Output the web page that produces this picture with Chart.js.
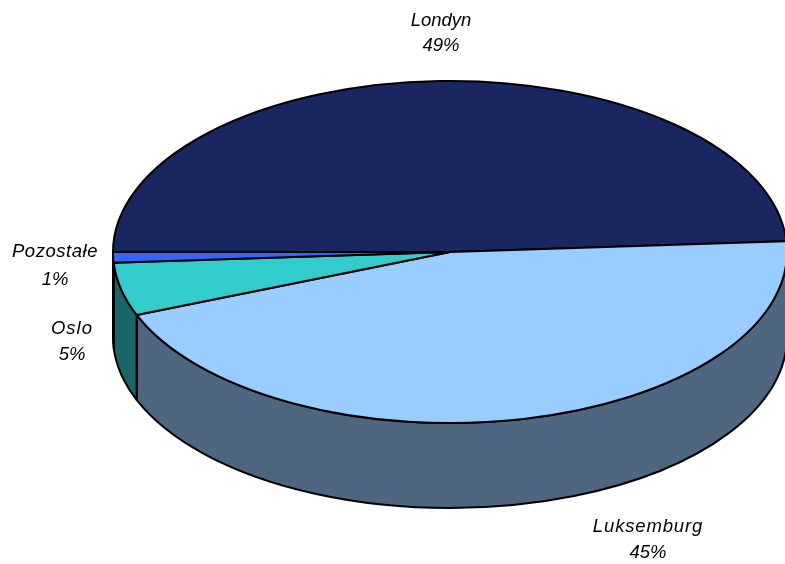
<!DOCTYPE html>
<html>
<head>
<meta charset="utf-8">
<style>html,body{margin:0;padding:0;background:#fff;overflow:hidden}canvas{display:block}</style>
<script src="https://cdn.jsdelivr.net/npm/chart.js@4/dist/chart.umd.js"></script>
</head>
<body>
<canvas id="c" width="785" height="564"></canvas>
<script>
const categories = ['Londyn', 'Luksemburg', 'Oslo', 'Pozostałe'];
const shares = [49, 45, 5, 1];

const topColors = ['#1A2660', '#99CCFF', '#33CCCC', '#3366FF'];
const wallColors = ['#0D1330', '#4F6680', '#1A6666', '#1A3380'];
const labelPlaces = [
  { x: 441, nameY: 21, shareY: 46, spacing: 0 },
  { x: 648, nameY: 527, shareY: 553, spacing: 0.85 },
  { x: 72, nameY: 329, shareY: 355, spacing: 1 },
  { x: 55, nameY: 252, shareY: 280, spacing: 0.55 }
];
const disc = { cx: 450, cy: 252, rx: 337, ry: 171, depth: 85, line: 2 };

function unscaledStroke(ctx) {
  ctx.save();
  ctx.setTransform(1, 0, 0, 1, 0, 0);
  ctx.lineWidth = disc.line;
  ctx.strokeStyle = '#000';
  ctx.lineJoin = 'round';
  CanvasRenderingContext2D.prototype.stroke.call(ctx);
  ctx.restore();
}

const tiltedPie = {
  id: 'tiltedPie',
  beforeDatasetsDraw(chart) {
    const ctx = chart.ctx;
    const arcs = chart.getDatasetMeta(0).data;
    const { x, y, outerRadius: r } = arcs[0];
    const sy = disc.ry / r;
    ctx.save();
    ctx.translate(disc.cx, disc.cy);
    ctx.scale(disc.rx / r, sy);
    ctx.translate(-x, -y);
    ctx.stroke = function () { unscaledStroke(ctx); };
    const drop = disc.depth / sy;
    arcs.forEach((arc, i) => {
      const a1 = Math.max(arc.startAngle, 0);
      const a2 = Math.min(arc.endAngle, Math.PI);
      if (a2 <= a1) return;
      ctx.beginPath();
      ctx.arc(x, y, r, a1, a2);
      ctx.arc(x, y + drop, r, a2, a1, true);
      ctx.closePath();
      ctx.fillStyle = wallColors[i];
      ctx.fill();
      unscaledStroke(ctx);
    });
  },
  afterDatasetsDraw(chart) {
    const ctx = chart.ctx;
    delete ctx.stroke;
    ctx.restore();
    ctx.save();
    ctx.font = 'italic 18.5px "Liberation Sans", Arial, sans-serif';
    ctx.fillStyle = '#000';
    ctx.textAlign = 'center';
    ctx.textBaseline = 'middle';
    categories.forEach((name, i) => {
      const p = labelPlaces[i];
      ctx.letterSpacing = p.spacing + 'px';
      ctx.fillText(name, p.x, p.nameY);
      ctx.letterSpacing = '0px';
      ctx.fillText(shares[i] + '%', p.x, p.shareY);
    });
    ctx.restore();
  }
};

new Chart(document.getElementById('c'), {
  type: 'pie',
  data: {
    labels: categories,
    datasets: [{
      data: shares,
      backgroundColor: topColors,
      borderColor: '#000',
      borderWidth: 2,
      clip: false
    }]
  },
  options: {
    responsive: false,
    animation: false,
    devicePixelRatio: 1,
    rotation: -90,
    plugins: { legend: { display: false }, tooltip: { enabled: false }, title: { display: false } }
  },
  plugins: [tiltedPie]
});
</script>
</body>
</html>
